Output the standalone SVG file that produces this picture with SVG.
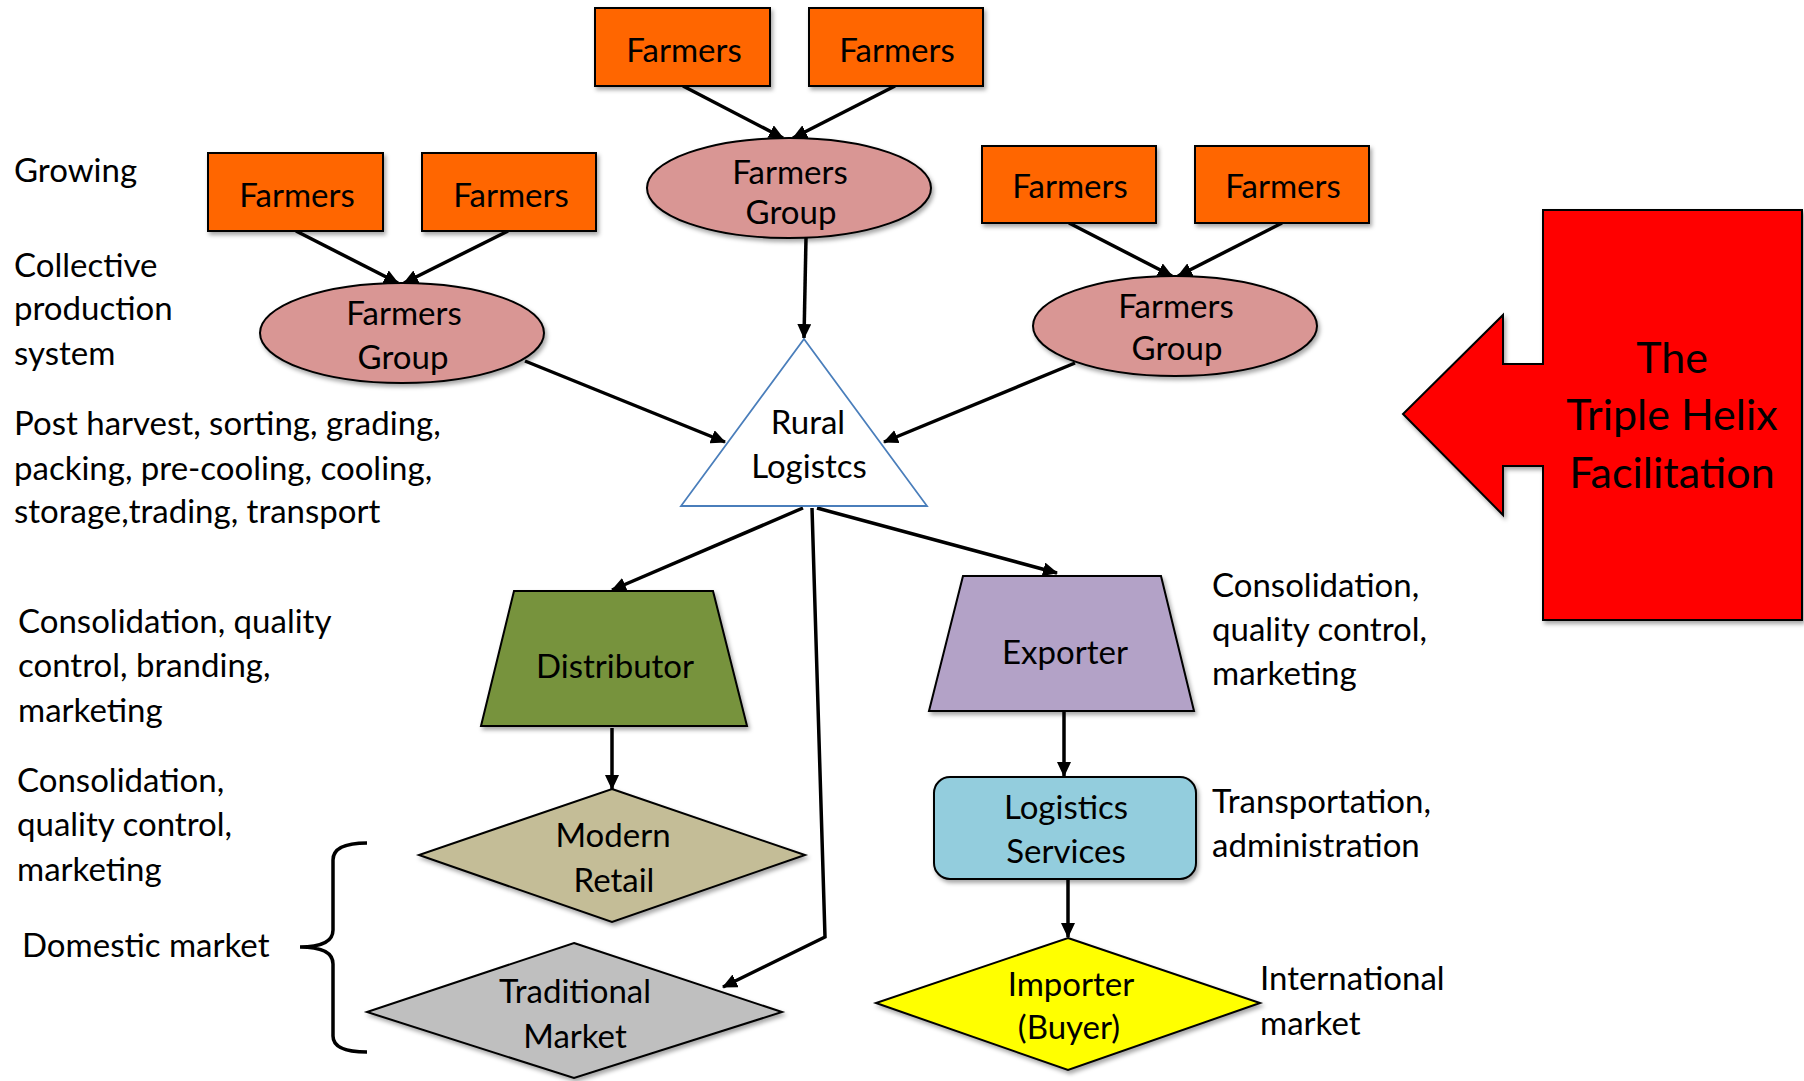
<svg xmlns="http://www.w3.org/2000/svg" width="1804" height="1081" viewBox="0 0 1804 1081">
<defs>
<style>
text{font-family:Lato,"Liberation Sans",sans-serif;font-size:33px;fill:#000}
.c{text-anchor:middle}
.n{stroke:#000;stroke-width:2}
.far{fill:#FF6600}
.grp{fill:#D99694}
.con{fill:none;stroke:#000;stroke-width:3.5}
.big{font-size:43px}
</style>
<filter id="sh" x="-10%" y="-10%" width="125%" height="130%">
<feDropShadow dx="2" dy="3" stdDeviation="2" flood-color="#000" flood-opacity="0.35"/>
</filter>
<marker id="ah" markerUnits="userSpaceOnUse" markerWidth="16" markerHeight="14" refX="14" refY="7" orient="auto">
<path d="M0,0 L15,7 L0,14 Z" fill="#000"/>
</marker>
</defs>
<rect width="1804" height="1081" fill="#fff"/>

<g id="connectors">
<line class="con" x1="683" y1="86" x2="783" y2="138" marker-end="url(#ah)"/>
<line class="con" x1="895" y1="86" x2="793" y2="138" marker-end="url(#ah)"/>
<line class="con" x1="296" y1="231" x2="398" y2="283" marker-end="url(#ah)"/>
<line class="con" x1="508" y1="231" x2="404" y2="283" marker-end="url(#ah)"/>
<line class="con" x1="1069" y1="223" x2="1172" y2="276" marker-end="url(#ah)"/>
<line class="con" x1="1282" y1="223" x2="1178" y2="276" marker-end="url(#ah)"/>
<line class="con" x1="806" y1="238" x2="804" y2="338" marker-end="url(#ah)"/>
<line class="con" x1="525" y1="361" x2="725" y2="442" marker-end="url(#ah)"/>
<line class="con" x1="1075" y1="363" x2="884" y2="442" marker-end="url(#ah)"/>
<line class="con" x1="803" y1="508" x2="612" y2="590" marker-end="url(#ah)"/>
<line class="con" x1="817" y1="508" x2="1057" y2="573" marker-end="url(#ah)"/>
<polyline class="con" points="812,508 825,937 723,987" marker-end="url(#ah)"/>
<line class="con" x1="612" y1="728" x2="612" y2="789" marker-end="url(#ah)"/>
<line class="con" x1="1064" y1="712" x2="1064" y2="776" marker-end="url(#ah)"/>
<line class="con" x1="1068" y1="880" x2="1068" y2="937" marker-end="url(#ah)"/>
<path class="con" d="M367,843 Q333,843 333,860 L333,930 Q333,947 300,947 Q333,947 333,964 L333,1036 Q333,1052 367,1052"/>
</g>

<g id="farmers-top-1"><rect class="n far" x="595" y="8" width="175" height="78" filter="url(#sh)"/><text class="c" x="684" y="62">Farmers</text></g>
<g id="farmers-top-2"><rect class="n far" x="809" y="8" width="174" height="78" filter="url(#sh)"/><text class="c" x="897" y="62">Farmers</text></g>
<g id="group-top"><ellipse class="n grp" cx="789" cy="188" rx="142" ry="50" filter="url(#sh)"/><text class="c" x="790" y="184">Farmers</text><text class="c" x="791" y="224">Group</text></g>

<g id="farmers-left-1"><rect class="n far" x="208" y="153" width="175" height="78" filter="url(#sh)"/><text class="c" x="297" y="207">Farmers</text></g>
<g id="farmers-left-2"><rect class="n far" x="422" y="153" width="174" height="78" filter="url(#sh)"/><text class="c" x="511" y="207">Farmers</text></g>
<g id="group-left"><ellipse class="n grp" cx="402" cy="333" rx="142" ry="50" filter="url(#sh)"/><text class="c" x="404" y="325">Farmers</text><text class="c" x="403" y="369">Group</text></g>

<g id="farmers-right-1"><rect class="n far" x="982" y="146" width="174" height="77" filter="url(#sh)"/><text class="c" x="1070" y="198">Farmers</text></g>
<g id="farmers-right-2"><rect class="n far" x="1195" y="146" width="174" height="77" filter="url(#sh)"/><text class="c" x="1283" y="198">Farmers</text></g>
<g id="group-right"><ellipse class="n grp" cx="1175" cy="326" rx="142" ry="50" filter="url(#sh)"/><text class="c" x="1176" y="318">Farmers</text><text class="c" x="1177" y="360">Group</text></g>

<g id="rural-logistics"><polygon points="804,339 927,506 681,506" fill="#fff" stroke="#4A7EBB" stroke-width="1.8"/><text class="c" x="808" y="434">Rural</text><text class="c" x="809" y="478">Logistcs</text></g>

<g id="distributor"><polygon class="n" points="514,591 713,591 747,726 481,726" fill="#77933C" filter="url(#sh)"/><text class="c" x="615" y="678">Distributor</text></g>
<g id="exporter"><polygon class="n" points="963,576 1161,576 1194,711 929,711" fill="#B3A2C7" filter="url(#sh)"/><text class="c" x="1065" y="664">Exporter</text></g>
<g id="logistics-services"><rect class="n" x="934" y="777" width="262" height="102" rx="16" fill="#93CDDD" filter="url(#sh)"/><text class="c" x="1066" y="819">Logistics</text><text class="c" x="1066" y="863">Services</text></g>
<g id="modern-retail"><polygon class="n" points="612,789 805,855 612,922 419,855" fill="#C4BD97" filter="url(#sh)"/><text class="c" x="613" y="847">Modern</text><text class="c" x="614" y="892">Retail</text></g>
<g id="traditional-market"><polygon class="n" points="574,943 782,1012 574,1078 367,1012" fill="#BFBFBF" filter="url(#sh)"/><text class="c" x="575" y="1003">Traditional</text><text class="c" x="575" y="1048">Market</text></g>
<g id="importer"><polygon class="n" points="1068,938 1260,1003 1068,1070 876,1003" fill="#FFFF00" filter="url(#sh)"/><text class="c" x="1071" y="996">Importer</text><text class="c" x="1069" y="1039">(Buyer)</text></g>

<g id="triple-helix"><path class="n" d="M1543,210 L1802,210 L1802,620 L1543,620 L1543,466 L1503,466 L1503,515 L1403,414 L1503,315 L1503,364 L1543,364 Z" fill="#FF0000" filter="url(#sh)"/>
<text class="c big" x="1672" y="373">The</text><text class="c big" x="1672" y="430">Triple Helix</text><text class="c big" x="1672" y="488">Facilitation</text></g>

<g id="annotations">
<text x="14" y="182">Growing</text>
<text x="14" y="277">Collective</text>
<text x="14" y="320">production</text>
<text x="14" y="365">system</text>
<text x="14" y="435">Post harvest, sorting, grading,</text>
<text x="14" y="480">packing, pre-cooling, cooling,</text>
<text x="14" y="523">storage,trading, transport</text>
<text x="18" y="633">Consolidation, quality</text>
<text x="18" y="677">control, branding,</text>
<text x="18" y="722">marketing</text>
<text x="17" y="792">Consolidation,</text>
<text x="17" y="836">quality control,</text>
<text x="17" y="881">marketing</text>
<text x="22" y="957">Domestic market</text>
<text x="1212" y="597">Consolidation,</text>
<text x="1212" y="641">quality control,</text>
<text x="1212" y="685">marketing</text>
<text x="1212" y="813">Transportation,</text>
<text x="1212" y="857">administration</text>
<text x="1260" y="990">International</text>
<text x="1260" y="1035">market</text>
</g>
</svg>
